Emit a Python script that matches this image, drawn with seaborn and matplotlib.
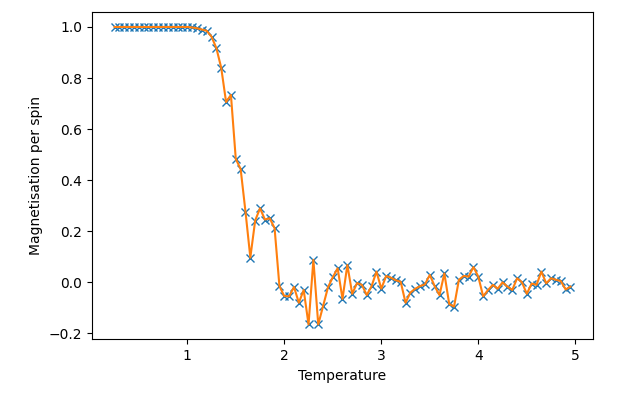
import numpy as np
import pandas as pd
import matplotlib
matplotlib.use('Agg')
import matplotlib.pyplot as plt
import seaborn as sns

# Temperature grid (0.25 .. 4.95, one point every 0.05)
temperature = [
    0.25, 0.30, 0.35, 0.40, 0.45, 0.50, 0.55, 0.60, 0.65, 0.70,
    0.75, 0.80, 0.85, 0.90, 0.95, 1.00, 1.05, 1.10, 1.15, 1.20,
    1.25, 1.30, 1.35, 1.40, 1.45, 1.50, 1.55, 1.60, 1.65, 1.70,
    1.75, 1.80, 1.85, 1.90, 1.95, 2.00, 2.05, 2.10, 2.15, 2.20,
    2.25, 2.30, 2.35, 2.40, 2.45, 2.50, 2.55, 2.60, 2.65, 2.70,
    2.75, 2.80, 2.85, 2.90, 2.95, 3.00, 3.05, 3.10, 3.15, 3.20,
    3.25, 3.30, 3.35, 3.40, 3.45, 3.50, 3.55, 3.60, 3.65, 3.70,
    3.75, 3.80, 3.85, 3.90, 3.95, 4.00, 4.05, 4.10, 4.15, 4.20,
    4.25, 4.30, 4.35, 4.40, 4.45, 4.50, 4.55, 4.60, 4.65, 4.70,
    4.75, 4.80, 4.85, 4.90, 4.95,
]

# Magnetisation per spin
magnetisation = [
    1.0, 1.0, 1.0, 1.0, 1.0, 1.0, 1.0, 1.0, 1.0, 1.0,
    1.0, 1.0, 1.0, 1.0, 1.0, 1.0, 0.998, 0.995, 0.99, 0.985,
    0.962, 0.917, 0.84, 0.706, 0.734, 0.483, 0.444, 0.277, 0.097, 0.242,
    0.29, 0.246, 0.251, 0.212, -0.015, -0.054, -0.055, -0.018, -0.08, -0.03,
    -0.165, 0.088, -0.165, -0.093, -0.02, 0.02, 0.055, -0.065, 0.068, -0.045,
    -0.003, -0.01, -0.05, -0.015, 0.042, -0.025, 0.025, 0.018, 0.008, 0.002,
    -0.08, -0.04, -0.025, -0.015, -0.008, 0.029, -0.015, -0.05, 0.035, -0.085,
    -0.095, 0.01, 0.025, 0.022, 0.06, 0.022, -0.055, -0.03, -0.01, -0.025,
    0.0, -0.017, -0.03, 0.016, 0.0, -0.045, -0.005, -0.01, 0.042, -0.004,
    0.016, 0.01, 0.005, -0.028, -0.017,
]

df = pd.DataFrame({'T': temperature, 'M': magnetisation})

fig = plt.figure(figsize=(6.4, 4.03), dpi=100)
ax = fig.add_axes([0.1433, 0.158, 0.7837, 0.812])

# markers first, then the line on top
sns.lineplot(data=df, x='T', y='M', ax=ax, estimator=None, sort=False,
             marker='x', linestyle='none', color='C0', markersize=6,
             markeredgecolor='C0', markeredgewidth=1)
sns.lineplot(data=df, x='T', y='M', ax=ax, estimator=None, sort=False,
             color='C1', linewidth=1.5)

ax.set_xlabel('Temperature')
ax.set_ylabel('Magnetisation per spin')

fig.savefig('out.png', dpi=100)
